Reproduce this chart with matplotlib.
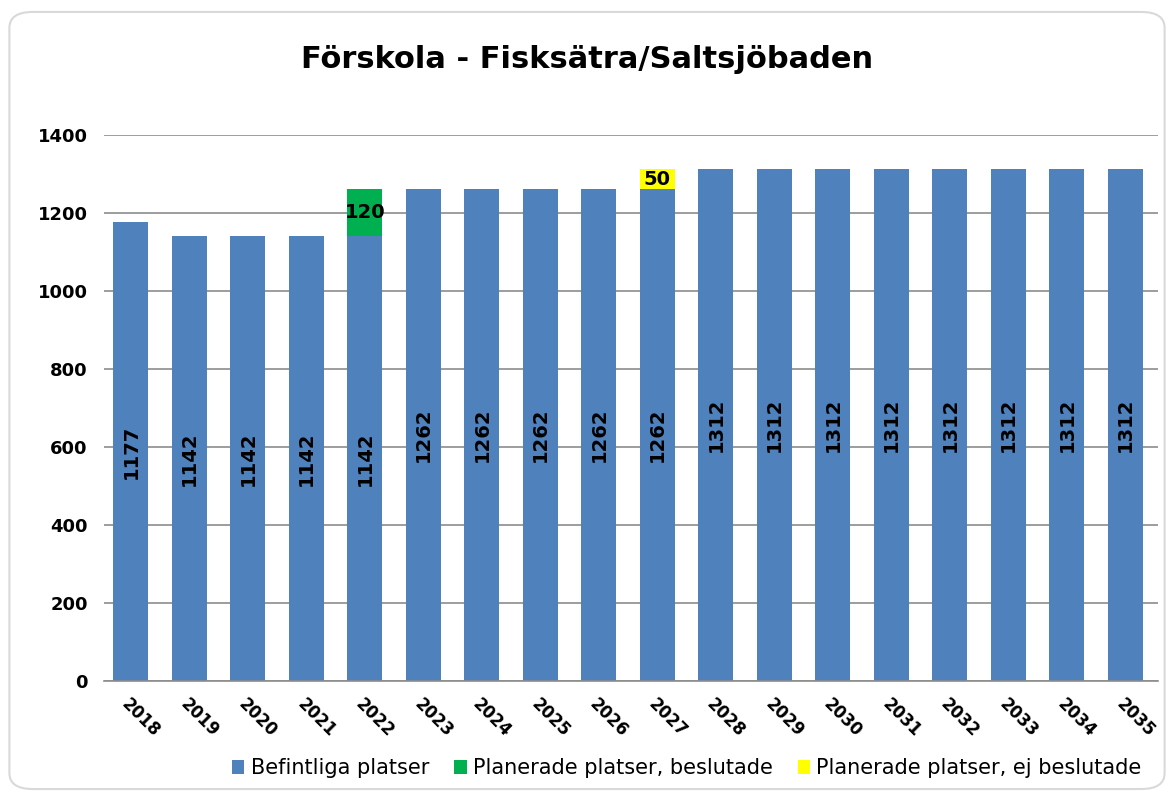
import matplotlib
matplotlib.use("Agg")
import matplotlib.pyplot as plt
from matplotlib.patches import FancyBboxPatch

years = [str(y) for y in range(2018, 2036)]
befintliga = [1177, 1142, 1142, 1142, 1142, 1262, 1262, 1262, 1262, 1262,
              1312, 1312, 1312, 1312, 1312, 1312, 1312, 1312]
beslutade = [0, 0, 0, 0, 120, 0, 0, 0, 0, 0, 0, 0, 0, 0, 0, 0, 0, 0]
ej_beslutade = [0, 0, 0, 0, 0, 0, 0, 0, 0, 50, 0, 0, 0, 0, 0, 0, 0, 0]

plt.rcParams['font.family'] = ['DejaVu Sans']

blue = '#4f81bd'
green = '#00b050'
yellow = '#ffff00'

fig = plt.figure(figsize=(11.74, 7.97), dpi=100)
fig.patches.append(FancyBboxPatch((0.008, 0.01), 0.984, 0.975, boxstyle='round,pad=0,rounding_size=0.02',
                                  transform=fig.transFigure, fc='none', ec='#d9d9d9', lw=1.5, zorder=-1))
ax = fig.add_axes([0.089, 0.1455, 0.897, 0.685])

x = range(len(years))
w = 0.6
ax.bar(x, befintliga, w, color=blue, label='Befintliga platser', zorder=2)
ax.bar(x, beslutade, w, bottom=befintliga, color=green, label='Planerade platser, beslutade', zorder=2)
base2 = [a + b for a, b in zip(befintliga, beslutade)]
ax.bar(x, ej_beslutade, w, bottom=base2, color=yellow, label='Planerade platser, ej beslutade', zorder=2)

for i, v in enumerate(befintliga):
    ax.text(i, v / 2, str(v), rotation=90, ha='center', va='center', fontsize=14, fontweight='bold')
for i, v in enumerate(beslutade):
    if v:
        ax.text(i, befintliga[i] + v / 2, str(v), ha='center', va='center', fontsize=14, fontweight='bold')
for i, v in enumerate(ej_beslutade):
    if v:
        ax.text(i, base2[i] + v / 2, str(v), ha='center', va='center', fontsize=14, fontweight='bold')

ax.set_ylim(0, 1400)
ax.set_xlim(-0.45, 17.55)
ax.set_yticks(range(0, 1401, 200))
ax.grid(axis='y', color='#8c8c8c', lw=1.2, zorder=0)
ax.set_axisbelow(True)
for s in ['left', 'right', 'top']:
    ax.spines[s].set_visible(False)
ax.spines['bottom'].set_color('#8c8c8c')
ax.spines['bottom'].set_linewidth(1.2)
ax.tick_params(axis='y', length=0, labelsize=13, pad=12)
ax.tick_params(axis='x', length=0, labelsize=12, pad=10)
for t in ax.get_yticklabels():
    t.set_fontweight('bold')
ax.set_xticks(list(x))
ax.set_xticklabels(years, rotation=-45, ha='left', rotation_mode='anchor', fontweight='bold')

fig.text(0.5, 0.925, 'Förskola - Fisksätra/Saltsjöbaden', ha='center', va='center',
         fontsize=22, fontweight='bold')

fig.legend(loc='center', bbox_to_anchor=(0.585, 0.036), ncol=3, frameon=False, fontsize=15,
           handlelength=0.6, handleheight=0.6, handletextpad=0.3, columnspacing=1.2)

fig.savefig('out.png', dpi=100)
